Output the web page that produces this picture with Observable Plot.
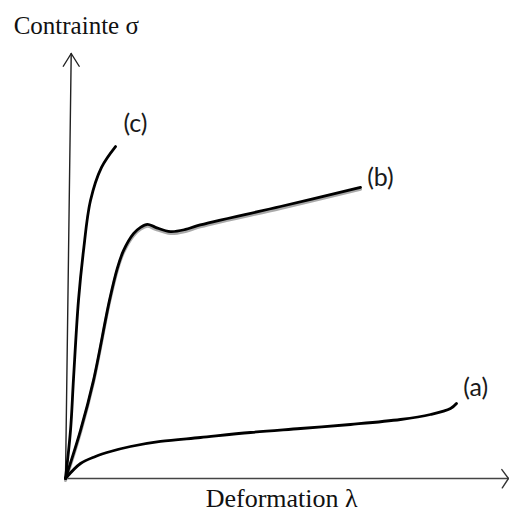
<!DOCTYPE html>
<html>
<head>
<meta charset="utf-8">
<script src="https://cdn.jsdelivr.net/npm/d3@7"></script>
<script src="https://cdn.jsdelivr.net/npm/@observablehq/plot@0.6"></script>
<style>
  html, body { margin: 0; padding: 0; background: #fff; }
  svg { display: block; }
</style>
</head>
<body>
<div id="chart"></div>
<script>
// Curve data (deformation λ, contrainte σ) in arbitrary units 0..100
const curveC = [
  [0, 0], [1.13, 11.3], [1.81, 23.5], [2.93, 41.9], [4.06, 53.6],
  [5.64, 65.4], [8.13, 73.2], [11.29, 78.1]
];
const curveB = [
  [0, 0], [3.39, 11.3], [6.32, 23.1], [9.93, 41.9], [11.74, 49.6],
  [13.09, 53.6], [15.35, 57.6], [16.93, 59.1], [18.51, 59.8], [20.32, 59.1],
  [23.7, 58.1], [27.09, 58.6], [29.8, 59.5], [48.53, 64.0], [66.59, 68.5]
];
const curveA = [
  [0, 0], [3.39, 3.53], [6.77, 5.18], [10.16, 6.35], [14.67, 7.53],
  [21.44, 8.71], [30.47, 9.65], [41.76, 10.82], [53.05, 11.76], [64.33, 12.71],
  [75.62, 13.88], [82.39, 15.06], [86.91, 16.47], [88.26, 17.65]
];
// Axis lines and arrow heads
const yAxisLine = [[0, 0], [1.29, 100]];
const yArrow = [[-0.5, 97.0], [1.29, 100], [3.09, 97.0]];
const xAxisLine = [[0, 0], [100, 0]];
const xArrow = [[98.5, 2.1], [100, 0], [98.6, -2.2]];
// Labels
const curveLabels = [
  {text: "(c)", x: 15.8, y: 83.5},
  {text: "(b)", x: 71.1, y: 70.6},
  {text: "(a)", x: 92.6, y: 21.2}
];
const yTitle = {text: "Contrainte σ", x: -11.7, y: 104.7};
const xTitle = {text: "Deformation λ", x: 48.8, y: -6.8};

const toObj = a => a.map(([x, y]) => ({x, y}));

const chart = Plot.plot({
  width: 509,
  height: 512,
  marginLeft: 65,
  marginRight: 1,
  marginTop: 53,
  marginBottom: 34,
  x: {domain: [0, 100], axis: null},
  y: {domain: [0, 100], axis: null},
  marks: [
    Plot.line(toObj(xAxisLine), {x: "x", y: "y", stroke: "#444", strokeWidth: 1.7}),
    Plot.line(toObj(xArrow), {x: "x", y: "y", stroke: "#333", strokeWidth: 1.4}),
    Plot.line(toObj(yAxisLine), {x: "x", y: "y", stroke: "#222", strokeWidth: 1.4}),
    Plot.line(toObj(yArrow), {x: "x", y: "y", stroke: "#222", strokeWidth: 1.4}),
    Plot.line(toObj(curveB), {x: "x", y: "y", stroke: "#aaa", strokeWidth: 3, dy: 2, curve: "catmull-rom"}),
    Plot.line(toObj(curveA), {x: "x", y: "y", stroke: "#000", strokeWidth: 2.8, curve: "catmull-rom"}),
    Plot.line(toObj(curveB), {x: "x", y: "y", stroke: "#000", strokeWidth: 2.8, curve: "catmull-rom"}),
    Plot.line(toObj(curveC), {x: "x", y: "y", stroke: "#000", strokeWidth: 2.8, curve: "catmull-rom"}),
    Plot.text(curveLabels, {x: "x", y: "y", text: "text", fontSize: 25, fontFamily: "Lato", fill: "#1a1a1a"}),
    Plot.text([yTitle], {x: "x", y: "y", text: "text", textAnchor: "start", lineAnchor: "bottom", fontSize: 25, fontFamily: "Liberation Serif", fill: "#111"}),
    Plot.text([xTitle], {x: "x", y: "y", text: "text", lineAnchor: "bottom", fontSize: 26, fontFamily: "Liberation Serif", fill: "#111"})
  ]
});
document.getElementById("chart").appendChild(chart);
</script>
</body>
</html>
